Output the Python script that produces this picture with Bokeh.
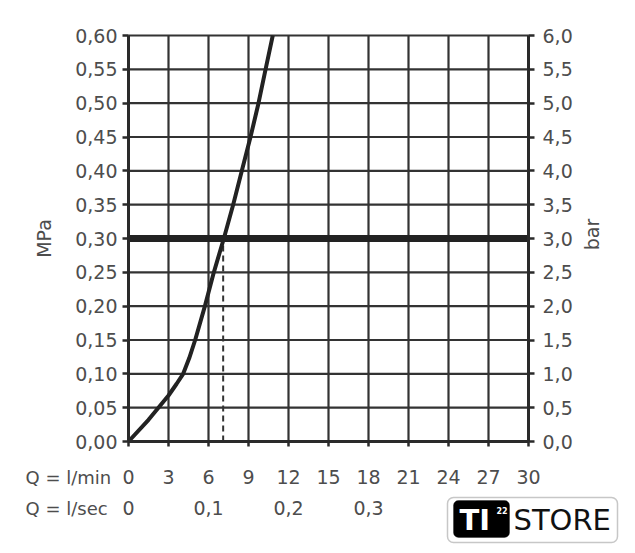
import math
from bokeh.plotting import figure
from bokeh.models import (Range1d, LinearAxis, FixedTicker, Label, BoxAnnotation)
from bokeh.embed import file_html
from bokeh.resources import INLINE

# ---- data ----
q_lpm = [0, 1.5, 3.0, 3.6, 4.1, 4.55, 5.0, 5.73, 6.4, 7.15, 7.85, 8.5, 9.15, 9.75, 10.28, 10.82]
p_mpa = [0, 0.032, 0.068, 0.085, 0.10, 0.123, 0.15, 0.20, 0.25, 0.30, 0.35, 0.40, 0.45, 0.50, 0.55, 0.60]
limit_p = 0.30
limit_q = 7.1
mpa_ticks = [0.0, 0.05, 0.10, 0.15, 0.20, 0.25, 0.30, 0.35, 0.40, 0.45, 0.50, 0.55, 0.60]
mpa_labels = ["0,00", "0,05", "0,10", "0,15", "0,20", "0,25", "0,30", "0,35", "0,40", "0,45", "0,50", "0,55", "0,60"]
bar_ticks = [0.0, 0.5, 1.0, 1.5, 2.0, 2.5, 3.0, 3.5, 4.0, 4.5, 5.0, 5.5, 6.0]
bar_labels = ["0,0", "0,5", "1,0", "1,5", "2,0", "2,5", "3,0", "3,5", "4,0", "4,5", "5,0", "5,5", "6,0"]
lpm_ticks = [0, 3, 6, 9, 12, 15, 18, 21, 24, 27, 30]
lpm_labels = ["0", "3", "6", "9", "12", "15", "18", "21", "24", "27", "30"]
lps_ticks = [0.0, 0.1, 0.2, 0.3]
lps_labels = ["0", "0,1", "0,2", "0,3"]

q_max, p_max, bar_max, lps_max = 30, 0.6, 6, 0.5

FONT = "DejaVu Sans"
TXT = "#4d4d4d"
GRID = "#333333"

# layout (pixels): chart box inside the canvas
W, H = 635, 553
L, R, T, B = 128, 528, 35, 441
sx_ = (R - L) / q_max
sy_ = (B - T) / p_max

def dx(px):
    return (px - L) / sx_

def dy(py):
    return (B - py) / sy_

p = figure(width=W, height=H, output_backend="svg", toolbar_location=None,
           x_range=Range1d(dx(0), dx(W)), y_range=Range1d(dy(H), dy(0)),
           x_axis_location=None, y_axis_location=None,
           min_border=0, min_border_left=0, min_border_right=0,
           min_border_top=0, min_border_bottom=0,
           background_fill_color="white", border_fill_color="white")
p.outline_line_color = None
p.grid.visible = False

p.extra_y_ranges = {"bar": Range1d(dy(H) * bar_max / p_max, dy(0) * bar_max / p_max)}
p.extra_x_ranges = {"sec": Range1d(dx(0) * lps_max / q_max, dx(W) * lps_max / q_max)}

# grid lines from the tick arrays
p.segment(x0=lpm_ticks, y0=[0] * len(lpm_ticks), x1=lpm_ticks, y1=[p_max] * len(lpm_ticks),
          line_color=GRID, line_width=2.2)
p.segment(x0=[0] * len(mpa_ticks), y0=mpa_ticks, x1=[q_max] * len(mpa_ticks), y1=mpa_ticks,
          line_color=GRID, line_width=2.2)

def style(ax):
    ax.axis_line_color = "#2a2a2a"
    ax.axis_line_width = 3
    ax.major_tick_line_color = "#2a2a2a"
    ax.major_tick_line_width = 2.5
    ax.major_tick_in = 0
    ax.major_tick_out = 6
    ax.minor_tick_line_color = None
    ax.major_label_text_font = FONT
    ax.major_label_text_font_size = "19px"
    ax.major_label_text_color = TXT
    ax.axis_label_text_font = FONT
    ax.axis_label_text_font_size = "19px"
    ax.axis_label_text_font_style = "normal"
    ax.axis_label_text_color = TXT

# left axis (MPa)
ly = LinearAxis(fixed_location=0, bounds=(0, p_max), ticker=FixedTicker(ticks=mpa_ticks),
                major_label_overrides=dict(zip(mpa_ticks, mpa_labels)), axis_label="MPa")
style(ly)
ly.major_label_standoff = 5
ly.axis_label_standoff = 17
p.add_layout(ly, "left")

# right axis (bar)
ry = LinearAxis(y_range_name="bar", fixed_location=q_max, bounds=(0, bar_max),
                ticker=FixedTicker(ticks=bar_ticks),
                major_label_overrides=dict(zip(bar_ticks, bar_labels)))
style(ry)
ry.major_label_standoff = 8
p.add_layout(ry, "right")

# bottom axis l/min
bx = LinearAxis(fixed_location=0, bounds=(0, q_max), ticker=FixedTicker(ticks=lpm_ticks),
                major_label_overrides=dict(zip(lpm_ticks, lpm_labels)))
style(bx)
bx.major_tick_out = 5
bx.major_label_standoff = 23
p.add_layout(bx, "below")

# bottom axis l/sec
lx = LinearAxis(x_range_name="sec", fixed_location=0, ticker=FixedTicker(ticks=lps_ticks),
                major_label_overrides=dict(zip(lps_ticks, lps_labels)))
style(lx)
lx.axis_line_color = None
lx.major_tick_line_color = None
lx.major_tick_out = 0
lx.major_label_standoff = 59
p.add_layout(lx, "below")

# limit line and dashed drop line
p.line([0, q_max], [limit_p, limit_p], line_color="#222222", line_width=7)
p.line([limit_q, limit_q], [0, limit_p], line_color="#333333", line_width=2, line_dash="6 4")
# curve
p.line(q_lpm, p_mpa, line_color="#222222", line_width=4, line_join="round")

# right axis title (reads bottom to top)
p.add_layout(Label(x=dx(591), y=dy(234), text="bar", angle=math.pi / 2,
                   text_font=FONT, text_font_size="19px", text_color=TXT,
                   text_align="center", text_baseline="middle"))

# row captions
for txt, py in (("Q = l/min", 477), ("Q = l/sec", 508)):
    p.add_layout(Label(x=dx(25), y=dy(py), text=txt, text_font=FONT, text_font_size="18px",
                       text_color=TXT, text_baseline="middle", text_align="left"))

# logo
p.add_layout(BoxAnnotation(left=dx(447), right=dx(617), top=dy(497), bottom=dy(542),
                           fill_color="white", fill_alpha=1, line_color="#444444",
                           line_width=1.5, border_radius=6))
p.add_layout(BoxAnnotation(left=dx(453), right=dx(509), top=dy(500), bottom=dy(537),
                           fill_color="black", fill_alpha=1, line_color="black",
                           line_width=1, border_radius=5))
p.add_layout(Label(x=dx(459), y=dy(519), text="TI", text_font=FONT, text_font_size="29px",
                   text_font_style="bold", text_color="white", text_baseline="middle"))
p.add_layout(Label(x=dx(496), y=dy(510), text="22", text_font=FONT, text_font_size="8px",
                   text_font_style="bold", text_color="white", text_baseline="middle"))
p.add_layout(Label(x=dx(513), y=dy(519), text="STORE", text_font=FONT, text_font_size="29px",
                   text_color="#111111", text_baseline="middle"))

open("out.html", "w").write(file_html(p, INLINE))
